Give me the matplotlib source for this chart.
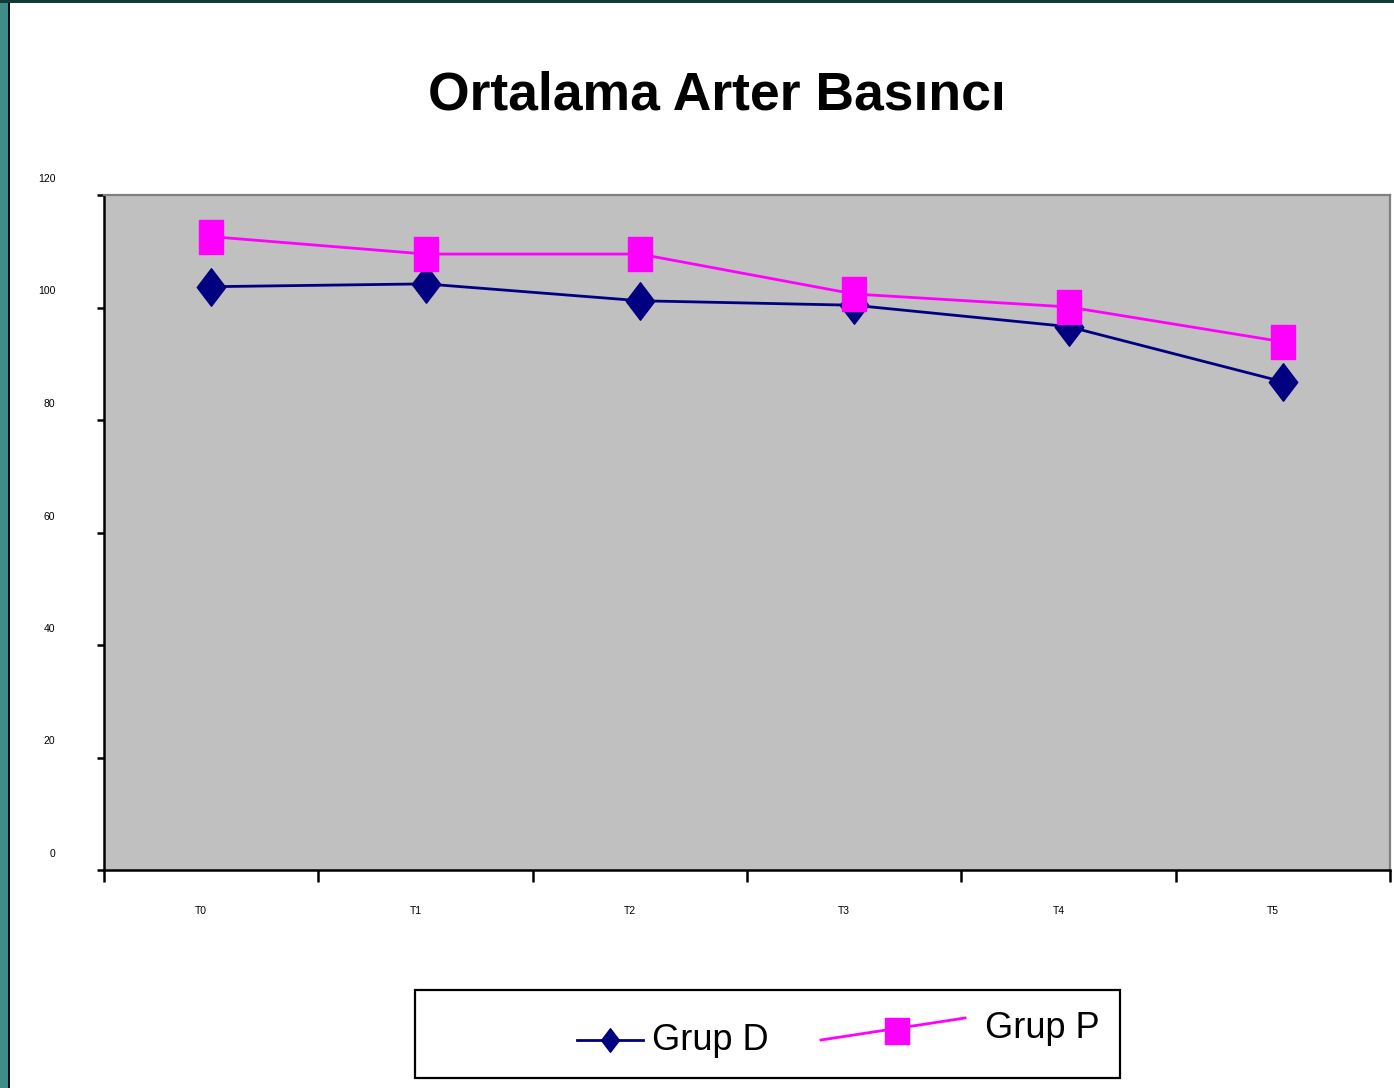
"""Ortalama Arter Basinci: two groups over time points T0-T5."""

import matplotlib
matplotlib.use("Agg")
import matplotlib.pyplot as plt
from matplotlib.lines import Line2D
from matplotlib.patches import Rectangle
from matplotlib.path import Path
from matplotlib.transforms import ScaledTranslation

plt.rcParams["font.family"] = ["Liberation Sans", "DejaVu Sans"]

# Data
times = ["T0", "T1", "T2", "T3", "T4", "T5"]
grup_d = [103.7, 104.2, 101.2, 100.4, 96.6, 86.8]
grup_p = [112.6, 109.5, 109.5, 102.4, 100.1, 93.9]
y_ticks = [0, 20, 40, 60, 80, 100, 120]

W, H = 1394, 1088
fig = plt.figure(figsize=(W / 100, H / 100), dpi=100)


def fx(x):
    return x / W


def fy(y):
    return 1 - y / H


# Slide frame (teal strip left, dark line on top)
fig.add_artist(Rectangle((0, 0), fx(8), 1, color="#3f8c89", lw=0))
fig.add_artist(Rectangle((fx(8), 0), fx(2), 1, color="#111111", lw=0))
fig.add_artist(Rectangle((0, fy(3)), 1, fy(0) - fy(3), color="#0f3b39", lw=0))

ax = fig.add_axes([fx(104), fy(870), fx(1390) - fx(104), fy(195) - fy(870)])
ax.set_facecolor("#C0C0C0")

# tall diamond / tall square markers
diamond = Path([(0, 1), (0.76, 0), (0, -1), (-0.76, 0), (0, 1)],
               [Path.MOVETO, Path.LINETO, Path.LINETO, Path.LINETO, Path.CLOSEPOLY])
tall_sq = Path([(-0.37, -0.5), (0.37, -0.5), (0.37, 0.5), (-0.37, 0.5), (-0.37, -0.5)],
               [Path.MOVETO, Path.LINETO, Path.LINETO, Path.LINETO, Path.CLOSEPOLY])
leg_sq = Path([(-0.44, -0.5), (0.44, -0.5), (0.44, 0.5), (-0.44, 0.5), (-0.44, -0.5)],
              [Path.MOVETO, Path.LINETO, Path.LINETO, Path.LINETO, Path.CLOSEPOLY])

x = list(range(len(times)))
ax.plot(x, grup_d, color="#000080", linewidth=2.0, marker=diamond,
        markersize=27, markerfacecolor="#000080", markeredgecolor="#000080", zorder=3)
ax.plot(x, grup_p, color="#FF00FF", linewidth=2.0, marker=tall_sq,
        markersize=24, markerfacecolor="#FF00FF", markeredgecolor="#FF00FF", zorder=4)

ax.set_xlim(-0.5, len(times) - 0.5)
ax.set_ylim(0, 120)

# Y axis: labels sit above their ticks
ax.set_yticks(y_ticks)
ax.set_yticklabels([str(v) for v in y_ticks], fontsize=7.5)
ax.tick_params(axis="y", direction="out", length=5, width=1.8, pad=30)
for lab in ax.get_yticklabels():
    lab.set_transform(lab.get_transform() + ScaledTranslation(0, 17 / 100, fig.dpi_scale_trans))

# X axis: ticks at category boundaries, labels at centers
ax.set_xticks([i - 0.5 for i in range(len(times) + 1)])
ax.set_xticklabels([])
ax.tick_params(axis="x", which="major", direction="out", length=8.5, width=1.8)
ax.set_xticks(x, minor=True)
ax.set_xticklabels(times, minor=True, fontsize=7.5)
ax.tick_params(axis="x", which="minor", length=0, pad=26)
for lab in ax.get_xticklabels(minor=True):
    lab.set_transform(lab.get_transform() + ScaledTranslation(-10 / 100, 0, fig.dpi_scale_trans))

for side in ("left", "bottom"):
    ax.spines[side].set_color("black")
    ax.spines[side].set_linewidth(1.8)
for side in ("top", "right"):
    ax.spines[side].set_color("#808080")
    ax.spines[side].set_linewidth(1.6)

fig.text(fx(717), fy(95), "Ortalama Arter Basıncı", fontsize=38.5, fontweight="bold",
         ha="center", va="center")

# Legend box, drawn by hand to match the original layout
fig.add_artist(Rectangle((fx(415), fy(1078)), fx(1120) - fx(415), fy(990) - fy(1078),
                         facecolor="white", edgecolor="black", lw=1.6))
fig.add_artist(Line2D([fx(577), fx(643)], [fy(1040), fy(1040)], color="#000080", lw=2.0))
fig.add_artist(Line2D([fx(610)], [fy(1040)], marker=diamond, markersize=17, linestyle="none",
                      color="#000080"))
fig.text(fx(652), fy(1040), "Grup D", fontsize=26, ha="left", va="center")
fig.add_artist(Line2D([fx(821), fx(965)], [fy(1040), fy(1018)], color="#FF00FF", lw=2.0))
fig.add_artist(Line2D([fx(897)], [fy(1031)], marker=leg_sq, markersize=19, linestyle="none",
                      color="#FF00FF"))
fig.text(fx(985), fy(1029), "Grup P", fontsize=26, ha="left", va="center")

fig.savefig("out.png", dpi=100)
